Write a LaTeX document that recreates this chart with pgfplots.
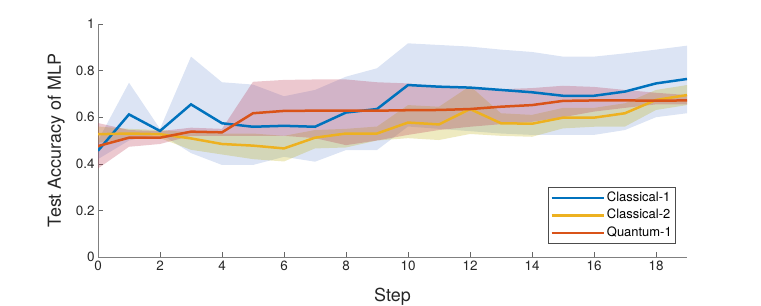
\documentclass[border=0pt]{standalone}
\usepackage{fontspec}
\setmainfont{TeX Gyre Heros}
\usepackage{pgfplots}
\usepackage{pgfplotstable}
\pgfplotsset{compat=1.18}
\usepgfplotslibrary{fillbetween}
\definecolor{mblue}{rgb}{0,0.447,0.741}
\definecolor{morange}{rgb}{0.929,0.694,0.125}
\definecolor{mred}{rgb}{0.85,0.325,0.098}
\definecolor{bandblue}{rgb}{0.31,0.47,0.79}
\definecolor{bandyellow}{rgb}{0.73,0.68,0.02}
\definecolor{bandpink}{rgb}{0.73,0.23,0.33}
\pgfplotstableread{
x c1 c1lo c1hi c2 c2lo c2hi q qlo qhi
0 0.456 0.42 0.50 0.527 0.49 0.56 0.476 0.38 0.575
1 0.612 0.50 0.748 0.530 0.51 0.55 0.512 0.473 0.545
2 0.541 0.53 0.55 0.527 0.51 0.545 0.512 0.485 0.540
3 0.655 0.446 0.86 0.509 0.46 0.535 0.538 0.52 0.555
4 0.574 0.395 0.75 0.485 0.44 0.53 0.535 0.52 0.550
5 0.559 0.395 0.74 0.478 0.42 0.53 0.617 0.52 0.752
6 0.563 0.43 0.69 0.466 0.41 0.52 0.627 0.52 0.760
7 0.559 0.409 0.717 0.512 0.466 0.545 0.628 0.51 0.762
8 0.620 0.459 0.774 0.530 0.47 0.55 0.628 0.48 0.762
9 0.635 0.459 0.81 0.530 0.50 0.56 0.628 0.50 0.750
10 0.738 0.56 0.917 0.577 0.51 0.652 0.630 0.524 0.745
11 0.731 0.55 0.91 0.569 0.502 0.645 0.631 0.545 0.730
12 0.727 0.54 0.903 0.635 0.528 0.734 0.635 0.559 0.720
13 0.717 0.53 0.89 0.574 0.52 0.617 0.645 0.57 0.720
14 0.707 0.524 0.88 0.572 0.516 0.61 0.652 0.58 0.725
15 0.692 0.524 0.86 0.598 0.552 0.64 0.670 0.60 0.735
16 0.692 0.524 0.86 0.598 0.559 0.64 0.672 0.624 0.730
17 0.710 0.545 0.874 0.617 0.56 0.66 0.672 0.64 0.717
18 0.745 0.60 0.89 0.674 0.631 0.717 0.671 0.655 0.705
19 0.764 0.617 0.907 0.695 0.652 0.738 0.672 0.655 0.695
}\data
\begin{document}
\begin{tikzpicture}
\begin{axis}[
  at={(0,0)}, anchor=south west,
  scale only axis, width=589bp, height=233bp,
  xmin=0, xmax=19, ymin=0, ymax=1,
  axis x line*=bottom, axis y line*=left,
  axis line style={-, black!50, line width=0.6bp},
  xtick={0,2,...,18}, ytick={0,0.2,0.4,0.6,0.8,1},
  tick align=inside, major tick length=5bp,
  tick style={black!60, line width=0.5bp},
  /pgf/number format/assume math mode=true,
  ticklabel style={font=\fontsize{13.5}{15}\selectfont, text=black!85},
  xlabel={Step}, ylabel={Test Accuracy of MLP},
  label style={font=\fontsize{18}{20}\selectfont, text=black!85},
  xlabel style={at={(axis description cs:0.5,-0.192)}, anchor=base},
  ylabel style={at={(axis description cs:-0.063,0.5)}, anchor=base},
  legend style={at={(0.9813,0.0558)}, anchor=south east,
    draw=black!70, line width=0.5bp, inner sep=2bp,
    font=\fontsize{13}{15}\selectfont,
    nodes={text height=9.5bp, text depth=3bp, inner ysep=2.5bp},
    legend cell align=left},
  legend image code/.code={\draw[#1, line width=2.5bp] (0bp,0bp) -- (52bp,0bp);},
]
\addplot[name path=c1u, draw=none, forget plot] table[x=x,y=c1hi]{\data};
\addplot[name path=c1l, draw=none, forget plot] table[x=x,y=c1lo]{\data};
\addplot[bandblue, fill opacity=0.2, draw=none, forget plot] fill between[of=c1u and c1l];
\addplot[name path=c2u, draw=none, forget plot] table[x=x,y=c2hi]{\data};
\addplot[name path=c2l, draw=none, forget plot] table[x=x,y=c2lo]{\data};
\addplot[bandyellow, fill opacity=0.25, draw=none, forget plot] fill between[of=c2u and c2l];
\addplot[name path=qu, draw=none, forget plot] table[x=x,y=qhi]{\data};
\addplot[name path=ql, draw=none, forget plot] table[x=x,y=qlo]{\data};
\addplot[bandpink, fill opacity=0.28, draw=none, forget plot] fill between[of=qu and ql];
\addplot[mblue, line width=2.5bp] table[x=x,y=c1]{\data};
\addlegendentry{Classical-1\hspace{14bp}}
\addplot[morange, line width=2.5bp] table[x=x,y=c2]{\data};
\addlegendentry{Classical-2\hspace{14bp}}
\addplot[mred, line width=2.5bp] table[x=x,y=q]{\data};
\addlegendentry{Quantum-1\hspace{14bp}}
\end{axis}
\pgfresetboundingbox
\path (-98bp,-49bp) rectangle (663bp,257bp);
\end{tikzpicture}
\end{document}
